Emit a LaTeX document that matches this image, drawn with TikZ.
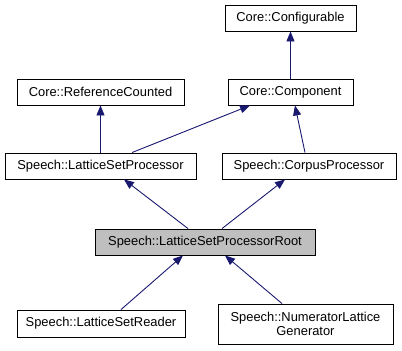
\documentclass[tikz,border=0pt]{standalone}
\usepackage{fontspec}
\setmainfont{Liberation Sans}
\usepackage{xcolor}
\usepackage{tikz}
\usetikzlibrary{arrows.meta}

\definecolor{edgeblue}{HTML}{191970}
\definecolor{rootgray}{HTML}{BFBFBF}

\tikzset{
  cls/.style={draw=black, line width=0.9pt, fill=white, inner sep=0pt,
    font=\fontsize{12.9}{14.5}\selectfont, align=center, minimum height=26pt},
  inherit/.style={draw=edgeblue, line width=0.9pt,
    {Triangle[length=10pt,width=8pt,fill=edgeblue]}-}
}

\begin{document}
\begin{tikzpicture}[x=1pt,y=1pt]
  \useasboundingbox (0,0) rectangle (402,-351);

  % Classes, top row down
  \node[cls, minimum width=131pt] (conf) at (290.5,-18) {Core::Configurable};
  \node[cls, minimum width=167pt] (refc) at (100.5,-92) {Core::ReferenceCounted};
  \node[cls, minimum width=125pt] (comp) at (290.5,-92) {Core::Component};
  \node[cls, minimum width=191pt] (lsp)  at (100.5,-166) {Speech::LatticeSetProcessor};
  \node[cls, minimum width=174pt] (corp) at (309,-166) {Speech::CorpusProcessor};
  \node[cls, minimum width=220pt, fill=rootgray] (root) at (205,-242) {Speech::LatticeSetProcessorRoot};
  \node[cls, minimum width=168pt, minimum height=27pt] (reader) at (101,-323.5) {Speech::LatticeSetReader};
  \node[cls, minimum width=175pt, minimum height=40pt] (numgen) at (305.5,-324) {Speech::NumeratorLattice\\Generator};

  % Inheritance edges, arrow at the base class
  \draw[inherit] (conf.south) -- (comp.north);
  \draw[inherit] (refc.south) -- (lsp.north -| refc.south);
  \draw[inherit] ([xshift=-40.5pt]comp.south) -- ([xshift=31.5pt]lsp.north);
  \draw[inherit] ([xshift=4.5pt]comp.south) -- ([xshift=-4pt]corp.north);
  \draw[inherit] ([xshift=23.5pt]lsp.south) -- ([xshift=-17pt]root.north);
  \draw[inherit] ([xshift=-24pt]corp.south) -- ([xshift=17pt]root.north);
  \draw[inherit] ([xshift=-22pt]root.south) -- ([xshift=20pt]reader.north);
  \draw[inherit] ([xshift=20pt]root.south) -- ([xshift=-23.5pt]numgen.north);
\end{tikzpicture}
\end{document}
